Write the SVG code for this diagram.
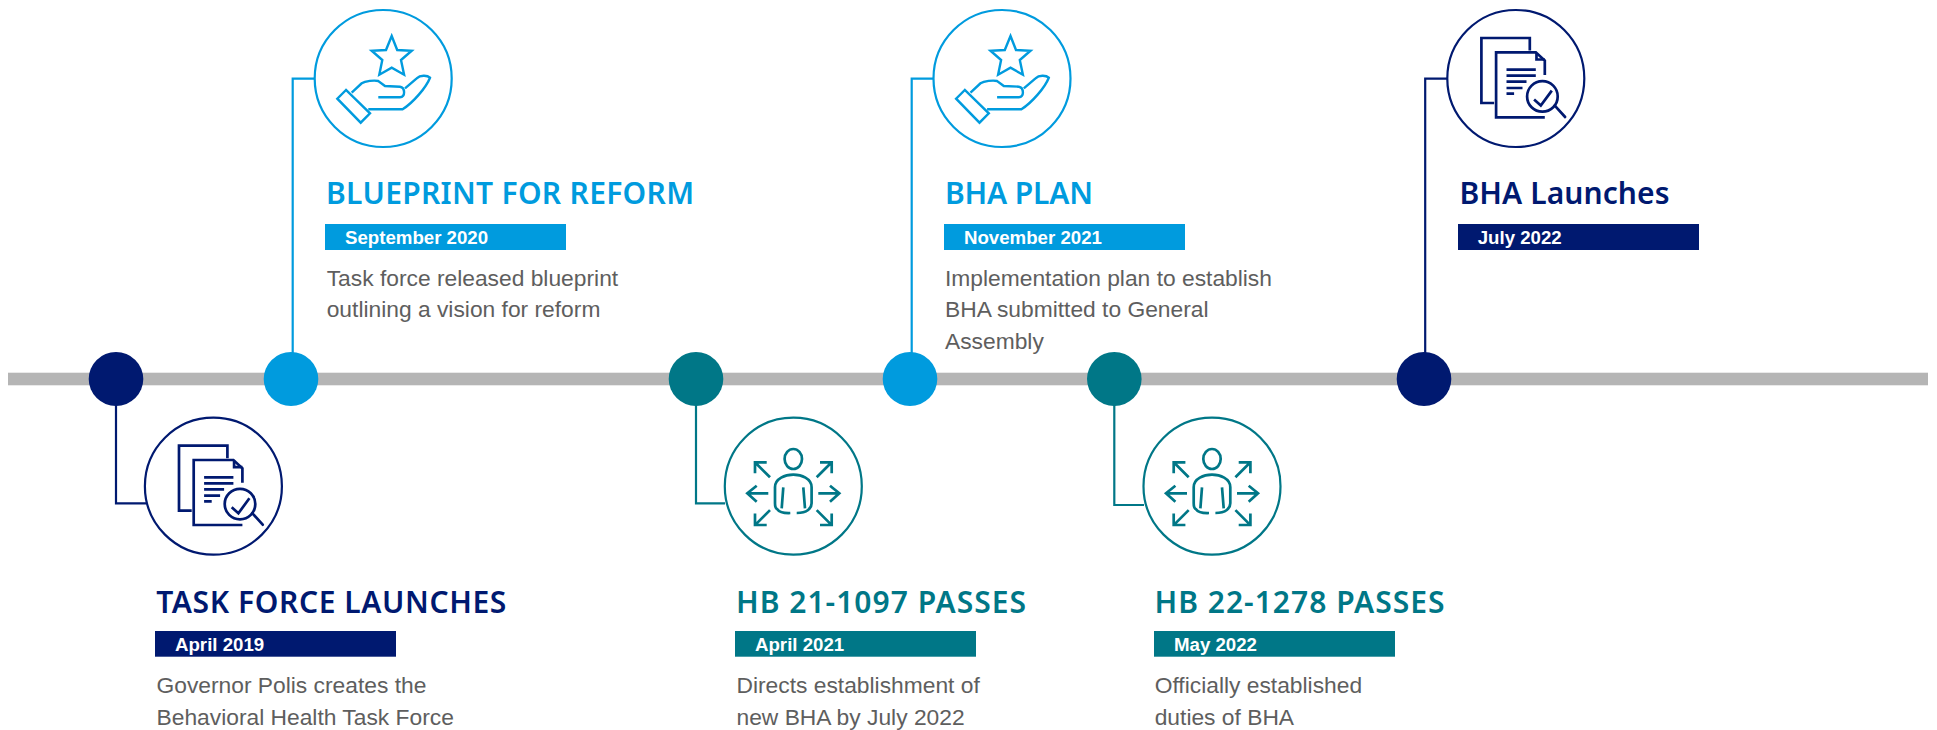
<svg xmlns="http://www.w3.org/2000/svg" xmlns:xlink="http://www.w3.org/1999/xlink" width="1937" height="730" viewBox="0 0 1937 730">
<style>
.navy{color:#001970}.blue{color:#009bde}.teal{color:#007787}
.dot{fill:currentColor}
.ring{fill:#fff;stroke:currentColor;stroke-width:2.2}
.bar{fill:currentColor}
.conn{fill:none;stroke-width:2.2}
.ic{fill:none;stroke:currentColor;stroke-width:2.7}
.title{font-family:"Noto Sans","DejaVu Sans",sans-serif;font-weight:600;font-size:30px;fill:currentColor}
.date{font-family:"Liberation Sans",Arial,sans-serif;font-weight:700;font-size:18.67px;fill:#fff}
.body{font-family:"Liberation Sans",Arial,sans-serif;font-size:22.8px;fill:#5e5e5e}
</style>
<defs>
<g id="doc" class="ic">
<path d="M-21.7,24.5H-34.4V-40.5H14V-27.9"/>
<path d="M29,38.8H-19.7V-26.2H20L29,-17.9V-3.5"/>
<path d="M20.7,-25.5V-19H29"/>
<path d="M-9.3,-8.9H20M-9.3,-2.9H20M-9.3,3.1H10.7M-9.3,9.5H6.7M-9.3,15.2H-1.7"/>
<circle cx="26.6" cy="17.9" r="15.3"/>
<path d="M18.3,21.1L25,27.1L36,12.1"/>
<path d="M39,27.1L49.3,38.5" stroke-linecap="round"/>
</g>
<g id="hand" class="ic" style="stroke-width:2.4">
<path d="M8.5,-42.5L14,-28.5L28.5,-27.8L17.8,-18.5L20.9,-3.8L8.5,-10.8L-3.9,-3.8L-0.9,-18.5L-11.5,-27.8L2.8,-28.5Z"/>
<path d="M-37.2,11.5L-45.9,20.2L-22.5,44.2L-13.2,34.8Z"/>
<path d="M-31.5,14.2L-21.5,4.8C-18,2.5 -9,1.5 -4.9,2.5L1.8,7.5L16.8,8.2C22,9 22.5,18.8 16.8,18.8H-4.9"/>
<path d="M21.8,9.8L33.5,-0.2C37,-3.5 44,-3.5 46.8,-0.8C43,9 30,24 19.4,30.8H-14.9"/>
</g>
<g id="person" class="ic">
<ellipse cx="0" cy="-27.2" rx="8.7" ry="10"/>
<path d="M-3,26.8C-8,27 -14,26 -16,23C-18,22 -18.3,20 -18.3,17V1C-18.3,-8 -8,-11.5 0,-11.5C8,-11.5 18.3,-8 18.3,1V17C18.3,22 14,26.8 3.4,26.8"/>
<path d="M-10,1.1L-11.6,22.1M10,1.1L11.7,22.1"/>
<path d="M-25,7.1H-46M-36.6,-0.5L-46,7.1L-36.6,15.5"/>
<path d="M25,7.1H46M36.7,-0.5L46,7.1L36.7,15.5"/>
<path d="M-23.3,-8.9L-38.3,-23.9M-26.6,-23.9H-38.3V-12.9"/>
<path d="M23.4,-8.9L38.4,-23.9M26.7,-23.9H38.4V-12.9"/>
<path d="M-23.3,23.9L-38.3,38.9M-38.3,27.2V38.8H-26.6"/>
<path d="M23.4,23.9L38.4,38.9M38.4,27.2V38.8H26.7"/>
</g>
</defs>
<rect id="timeline" x="8" y="372.7" width="1920" height="12.6" fill="#b5b5b5"/>
<g id="connectors">
<path class="conn" stroke="#001970" d="M116,400V503.3H146"/>
<path class="conn" stroke="#009bde" d="M292.7,360V78.7H315"/>
<path class="conn" stroke="#007787" d="M696,400V503.3H725"/>
<path class="conn" stroke="#009bde" d="M911.7,360V78.7H934"/>
<path class="conn" stroke="#007787" d="M1114.3,400V505H1144"/>
<path class="conn" stroke="#001970" d="M1425.2,360V78.7H1448"/>
</g>
<g id="node-task-force" class="navy">
<ellipse class="dot" cx="116" cy="379" rx="27.3" ry="27"/>
<ellipse class="ring" cx="213.4" cy="486.2" rx="68.5" ry="68.5"/>
<use href="#doc" xlink:href="#doc" x="213.4" y="486.2"/>
<text class="title" x="156.3" y="612.7" textLength="350">TASK FORCE LAUNCHES</text>
<rect class="bar" x="155" y="631" width="241" height="25.7"/>
<text class="date" x="175" y="651">April 2019</text>
<text class="body" x="156.5" y="692.7">Governor Polis creates the</text>
<text class="body" x="156.5" y="724.5">Behavioral Health Task Force</text>
</g>
<g id="node-blueprint" class="blue">
<ellipse class="dot" cx="291" cy="379" rx="27.3" ry="27"/>
<ellipse class="ring" cx="383.2" cy="78.5" rx="68.5" ry="68.5"/>
<use href="#hand" xlink:href="#hand" x="383.2" y="78.5"/>
<text class="title" x="326" y="204" textLength="368">BLUEPRINT FOR REFORM</text>
<rect class="bar" x="325" y="224" width="241" height="26"/>
<text class="date" x="345" y="244.3">September 2020</text>
<text class="body" x="326.7" y="285.7">Task force released blueprint</text>
<text class="body" x="326.7" y="317">outlining a vision for reform</text>
</g>
<g id="node-hb21" class="teal">
<ellipse class="dot" cx="696" cy="379" rx="27.3" ry="27"/>
<ellipse class="ring" cx="793.3" cy="486.2" rx="68.5" ry="68.5"/>
<use href="#person" xlink:href="#person" x="793.3" y="486.2"/>
<text class="title" x="736" y="612.7" textLength="290">HB 21-1097 PASSES</text>
<rect class="bar" x="735" y="631" width="241" height="25.7"/>
<text class="date" x="755" y="651">April 2021</text>
<text class="body" x="736.5" y="692.7">Directs establishment of</text>
<text class="body" x="736.5" y="724.5">new BHA by July 2022</text>
</g>
<g id="node-bha-plan" class="blue">
<ellipse class="dot" cx="910" cy="379" rx="27.3" ry="27"/>
<ellipse class="ring" cx="1002" cy="78.5" rx="68.5" ry="68.5"/>
<use href="#hand" xlink:href="#hand" x="1002" y="78.5"/>
<text class="title" x="945" y="204" textLength="148">BHA PLAN</text>
<rect class="bar" x="944" y="224" width="241" height="26"/>
<text class="date" x="964" y="244.3">November 2021</text>
<text class="body" x="945" y="285.7">Implementation plan to establish</text>
<text class="body" x="945" y="317">BHA submitted to General</text>
<text class="body" x="945" y="348.5">Assembly</text>
</g>
<g id="node-hb22" class="teal">
<ellipse class="dot" cx="1114.3" cy="379" rx="27.3" ry="27"/>
<ellipse class="ring" cx="1212" cy="486.2" rx="68.5" ry="68.5"/>
<use href="#person" xlink:href="#person" x="1212" y="486.2"/>
<text class="title" x="1154.5" y="612.7" textLength="290">HB 22-1278 PASSES</text>
<rect class="bar" x="1154" y="631" width="241" height="25.7"/>
<text class="date" x="1174" y="651">May 2022</text>
<text class="body" x="1154.7" y="692.7">Officially established</text>
<text class="body" x="1154.7" y="724.5">duties of BHA</text>
</g>
<g id="node-bha-launches" class="navy">
<ellipse class="dot" cx="1424" cy="379" rx="27.3" ry="27"/>
<ellipse class="ring" cx="1515.8" cy="78.5" rx="68.5" ry="68.5"/>
<use href="#doc" xlink:href="#doc" x="1515.8" y="78.5"/>
<text class="title" x="1459.5" y="204" textLength="210">BHA Launches</text>
<rect class="bar" x="1458" y="224" width="241" height="26"/>
<text class="date" x="1477.7" y="244.3">July 2022</text>
</g>
</svg>
